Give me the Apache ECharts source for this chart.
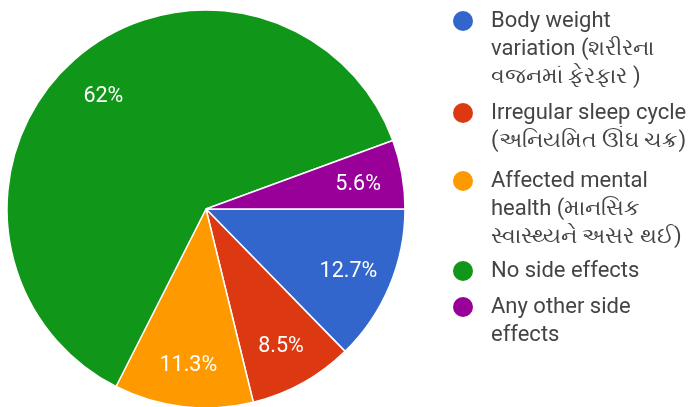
<!DOCTYPE html>
<html>
<head>
<meta charset="utf-8">
<script src="https://cdn.jsdelivr.net/npm/echarts@6/dist/echarts.min.js"></script>
<style>
html,body{margin:0;padding:0;background:#fff;}
#main{width:691px;height:407px;}
</style>
</head>
<body>
<div id="main"></div>
<script>
const categories = [
  "Body weight\nvariation (શરીરના\nવજનમાં ફેરફાર )",
  "Irregular sleep cycle\n(અનિયમિત ઊંઘ ચક્ર)",
  "Affected mental\nhealth (માનસિક\nસ્વાસ્થ્યને અસર થઈ)",
  "No side effects",
  "Any other side\neffects"
];
const values = [12.7, 8.5, 11.3, 62, 5.6];
const labels = ["12.7%", "8.5%", "11.3%", "62%", "5.6%"];
const colors = ["#3366cc", "#dc3912", "#ff9900", "#109618", "#990099"];

// layout constants
const LH = 28;
const iconCenters = [21, 113, 181, 271, 307];
const FONT = "Roboto, 'Noto Sans', sans-serif";

const data = categories.map((c, i) => ({ name: c, value: values[i], itemStyle: { color: colors[i] } }));

const legends = categories.map((c, i) => {
  const n = c.split("\n").length;
  return {
    data: [c],
    orient: 'vertical',
    left: 451,
    top: iconCenters[i] - (2 * n - 1) * LH / 2,
    padding: 0,
    icon: 'circle',
    itemWidth: 22,
    itemHeight: 22,
    selectedMode: false,
    formatter: name => "\n".repeat(n - 1) + name,
    textStyle: {
      fontFamily: FONT,
      fontSize: 22,
      color: '#444',
      lineHeight: LH,
      padding: [0, 0, 0, 12]
    }
  };
});

const chart = echarts.init(document.getElementById('main'), null, { renderer: 'canvas' });
chart.setOption({
  animation: false,
  backgroundColor: '#fff',
  color: colors,
  legend: legends,
  series: [
    {
      type: 'pie',
      center: [206, 209],
      radius: [0, 199],
      startAngle: 0,
      clockwise: true,
      silent: true,
      label: { show: false },
      labelLine: { show: false },
      itemStyle: { borderColor: '#fff', borderWidth: 1.5 },
      data: data
    },
    {
      type: 'pie',
      center: [206, 212],
      radius: [104, 199],
      startAngle: 0,
      clockwise: true,
      silent: true,
      legendHoverLink: false,
      itemStyle: { color: 'rgba(0,0,0,0)', borderWidth: 0 },
      label: {
        show: true,
        position: 'inside',
        color: '#fff',
        fontFamily: FONT,
        fontSize: 21.5,
        formatter: p => labels[p.dataIndex]
      },
      labelLine: { show: false },
      data: categories.map((c, i) => ({ name: c + ' ', value: values[i] }))
    }
  ]
});
</script>
</body>
</html>
